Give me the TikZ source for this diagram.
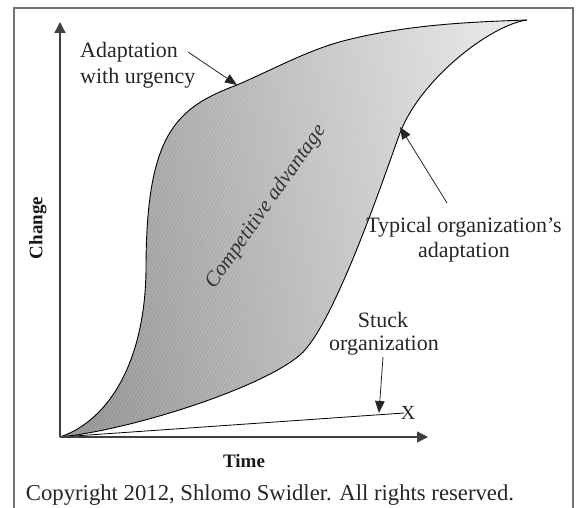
\documentclass[tikz,border=0pt]{standalone}
\usepackage{fontspec}
\setmainfont{Liberation Serif}
\usetikzlibrary{arrows.meta,patterns.meta}
\begin{document}
\begin{tikzpicture}[x=1pt,y=-1pt,
  lab/.style={font=\fontsize{22}{26}\selectfont, inner sep=0pt, text=black!85},
  axlab/.style={font=\fontsize{19}{22}\selectfont\bfseries, inner sep=0pt, text=black!90},
  axis/.style={line width=1.4pt, draw=black!75, -{Triangle[length=11pt,width=11pt]}},
  pointer/.style={line width=0.8pt, draw=black!85, -{Triangle[length=12pt,width=9.5pt]}},
  curve/.style={line width=0.9pt, draw=black}]
\useasboundingbox (0,0) rectangle (579,508);
% frame
\draw[line width=1.3pt, draw=black!55] (14,508) -- (14,8) -- (573,8) -- (573,508);
% coordinates
\coordinate (O) at (60,437);
\coordinate (E) at (527,20);
\coordinate (yTop) at (60,22);
\coordinate (xEnd) at (428,437);
\coordinate (stuckEnd) at (404,413);
% shaded region
\path[left color=black!42, right color=black!10, shading angle=100]
  (O) .. controls (110,420) and (145,360) .. (146,270)
  .. controls (146,135) and (175,108) .. (237,85)
  .. controls (274,69) and (310,49) .. (347,40)
  .. controls (407,25) and (467,22) .. (E)
  .. controls (490,25) and (420,80) .. (400,133)
  .. controls (388,165) and (335,325) .. (300,355)
  .. controls (260,389) and (130,430) .. (O) -- cycle;
\path[pattern={Lines[angle=60,distance=3pt,line width=0.4pt]}, pattern color=white, opacity=0.3]
  (O) .. controls (110,420) and (145,360) .. (146,270)
  .. controls (146,135) and (175,108) .. (237,85)
  .. controls (274,69) and (310,49) .. (347,40)
  .. controls (407,25) and (467,22) .. (E)
  .. controls (490,25) and (420,80) .. (400,133)
  .. controls (388,165) and (335,325) .. (300,355)
  .. controls (260,389) and (130,430) .. (O) -- cycle;
% curves
\draw[curve] (O) .. controls (110,420) and (145,360) .. (146,270)
  .. controls (146,135) and (175,108) .. (237,85)
  .. controls (274,69) and (310,49) .. (347,40)
  .. controls (407,25) and (467,22) .. (E);
\draw[curve] (E) .. controls (490,25) and (420,80) .. (400,133)
  .. controls (388,165) and (335,325) .. (300,355)
  .. controls (260,389) and (130,430) .. (O);
\draw[curve, line width=0.8pt] (O) -- (stuckEnd);
% axes
\draw[axis] (O) -- (yTop);
\draw[axis] (O) -- (xEnd);
% labels
\node[lab, anchor=base west] (adapt1) at (80,58) {Adaptation};
\node[lab, anchor=base west] (adapt2) at (80,84) {with urgency};
\node[lab, anchor=base] (typ1) at (464,233) {Typical organization’s};
\node[lab, anchor=base] (typ2) at (464,258) {adaptation};
\node[lab, anchor=base] (stuck1) at (383,327) {Stuck};
\node[lab, anchor=base] (stuck2) at (384,350) {organization};
\node[lab, font=\fontsize{20}{24}\selectfont] (xmark) at (408,413) {X};
\node[axlab, anchor=base] (time) at (244,467) {Time};
\node[axlab, rotate=90] (change) at (38,228) {Change};
\node[lab, font=\fontsize{22.7}{26}\selectfont, anchor=base] (copy) at (270,500) {Copyright 2012, Shlomo Swidler. All rights reserved.};
\node[lab, font=\fontsize{21}{24}\selectfont\itshape, text=black!80, rotate=55] (comp) at (266,207) {Competitive advantage};
% pointers
\coordinate (adaptStart) at (188,52);
\coordinate (adaptTip) at (237,85);
\coordinate (typStart) at (447,203);
\coordinate (typTip) at (400,127);
\coordinate (stuckStart) at (383,357);
\coordinate (stuckTip) at (379,413);
\draw[pointer] (adaptStart) -- (adaptTip);
\draw[pointer] (typStart) -- (typTip);
\draw[pointer] (stuckStart) -- (stuckTip);
\end{tikzpicture}
\end{document}
